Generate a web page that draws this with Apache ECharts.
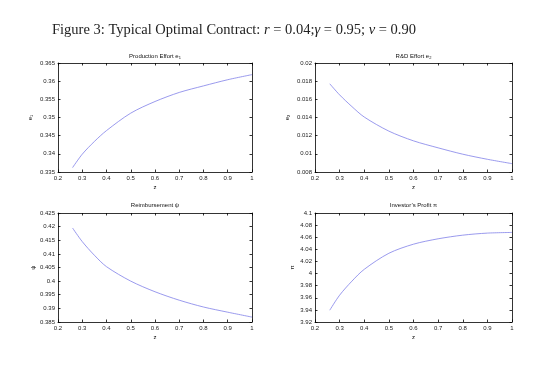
<!DOCTYPE html>
<html><head><meta charset="utf-8">
<script src="https://cdn.jsdelivr.net/npm/echarts@6/dist/echarts.min.js"></script>
<style>html,body{margin:0;padding:0;background:#fff}#c{width:540px;height:372px}</style>
</head><body><div id="c"></div>
<script>
const zValues = [0.26, 0.3, 0.35, 0.4, 0.5, 0.6, 0.7, 0.8, 0.9, 1.0];
const e1Values = [0.3362, 0.3399, 0.3434, 0.3464, 0.3512, 0.3544, 0.3569, 0.3587, 0.3604, 0.3618];
const e2Values = [0.01771, 0.01649, 0.0152, 0.01405, 0.0125, 0.01143, 0.01066, 0.00996, 0.0094, 0.00892];
const psiValues = [0.4195, 0.4145, 0.4095, 0.4053, 0.4000, 0.3961, 0.3930, 0.3905, 0.3886, 0.3868];
const piValues = [3.9395, 3.9643, 3.9875, 4.007, 4.0335, 4.0485, 4.0574, 4.0634, 4.0668, 4.0679];
const yRanges = [[0.335, 0.365, 0.005], [0.008, 0.02, 0.002], [0.385, 0.425, 0.005], [3.92, 4.1, 0.02]];
const xRange = [0.2, 1.0, 0.1];
const panelTitles = ['Production Effort e{s|1}', 'R&D Effort e{s|2}', 'Reimbursement ψ', 'Investor\u2019s Profit π'];
const yNames = ['e{s|1}', 'e{s|2}', 'ψ', 'π'];
const xName = 'z';

const chart = echarts.init(document.getElementById('c'));
const grids = [
  {left: 58, top: 63, width: 194, height: 109},
  {left: 315, top: 63, width: 197, height: 109},
  {left: 58, top: 213, width: 194, height: 109},
  {left: 315, top: 213, width: 197, height: 109}
];
const dataSets = [e1Values, e2Values, psiValues, piValues];
const fmt = v => String(+(+v).toFixed(4));
const lineSty = {color: '#000', width: 0.8};
const lblSty = {fontSize: 6, color: '#222', fontFamily: 'Liberation Sans, Arial, sans-serif'};
const xAxes = [], yAxes = [], series = [], titles = [];
const yNameGaps = [24, 24, 20, 20];
grids.forEach((g, i) => {
  const yr = yRanges[i];
  xAxes.push({gridIndex: i, type: 'value', min: xRange[0], max: xRange[1], interval: xRange[2], position: 'bottom',
    name: xName, nameLocation: 'middle', nameGap: 12, nameTextStyle: {fontSize: 6, fontFamily: 'Liberation Sans'},
    axisLine: {show: true, lineStyle: lineSty}, axisTick: {show: true, inside: true, length: 2.5, lineStyle: lineSty},
    axisLabel: Object.assign({margin: 3, formatter: fmt, showMinLabel: true, showMaxLabel: true}, lblSty), splitLine: {show: false}});
  xAxes.push({gridIndex: i, type: 'value', min: xRange[0], max: xRange[1], interval: xRange[2], position: 'top',
    axisLine: {show: true, lineStyle: lineSty}, axisTick: {show: true, inside: true, length: 2.5, lineStyle: lineSty},
    axisLabel: {show: false}, splitLine: {show: false}});
  yAxes.push({gridIndex: i, type: 'value', min: yr[0], max: yr[1], interval: yr[2], position: 'left',
    name: yNames[i], nameLocation: 'middle', nameGap: yNameGaps[i], nameRotate: 90,
    nameTextStyle: {fontSize: 6, fontFamily: 'Liberation Sans', rich: {s: {fontSize: 4, verticalAlign: 'bottom', padding: [4,0,0,0]}}},
    axisLine: {show: true, lineStyle: lineSty}, axisTick: {show: true, inside: true, length: 2.5, lineStyle: lineSty},
    axisLabel: Object.assign({margin: 3, formatter: fmt, showMinLabel: true, showMaxLabel: true}, lblSty), splitLine: {show: false}});
  yAxes.push({gridIndex: i, type: 'value', min: yr[0], max: yr[1], interval: yr[2], position: 'right',
    axisLine: {show: true, lineStyle: lineSty}, axisTick: {show: true, inside: true, length: 2.5, lineStyle: lineSty},
    axisLabel: {show: false}, splitLine: {show: false}});
  series.push({type: 'line', xAxisIndex: 2 * i, yAxisIndex: 2 * i, data: zValues.map((z, k) => [z, dataSets[i][k]]),
    smooth: 0.3, showSymbol: false, lineStyle: {color: '#8080e8', width: 0.8}, animation: false});
  titles.push({text: panelTitles[i], left: g.left + g.width / 2, top: g.top - 11, textAlign: 'center', padding: 0,
    textStyle: {fontSize: 6, fontWeight: 'normal', color: '#111', fontFamily: 'Liberation Sans',
      rich: {s: {fontSize: 4, padding: [4, 0, 0, 0]}}}});
});
titles.push({text: 'Figure 3: Typical Optimal Contract: {i|r} = 0.04;{i|γ} = 0.95; {i|ν} = 0.90', left: 52, top: 23, padding: 0,
  textStyle: {fontSize: 14.5, fontWeight: 'normal', color: '#222', fontFamily: 'Liberation Serif, DejaVu Serif, serif',
    rich: {i: {fontSize: 14.5, fontStyle: 'italic', color: '#222', fontFamily: 'Liberation Serif, DejaVu Serif, serif'}}}});
chart.setOption({
  animation: false,
  title: titles,
  grid: grids.map(g => Object.assign({containLabel: false}, g)),
  xAxis: xAxes, yAxis: yAxes, series: series
});
</script></body></html>
